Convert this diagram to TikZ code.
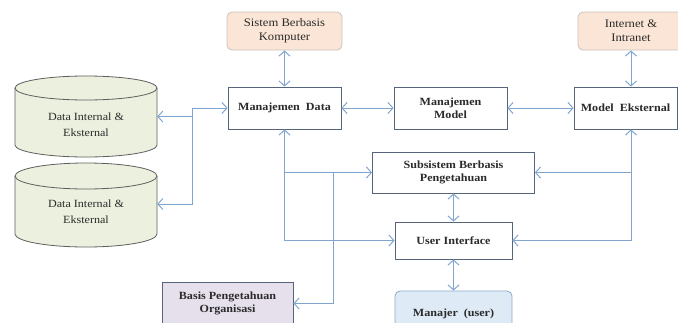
\documentclass[tikz,border=0pt]{standalone}
\usepackage{fontspec}
\setmainfont{Liberation Serif}[FakeStretch=1.1]
\usetikzlibrary{arrows.meta}
\definecolor{lineblue}{HTML}{82A5D0}
\definecolor{boxline}{HTML}{56657C}
\definecolor{textc}{HTML}{2B2B2B}
\definecolor{peach}{HTML}{FBE5D6}
\definecolor{peachline}{HTML}{C9C2BC}
\definecolor{cylfill}{HTML}{EBF1DE}
\definecolor{cylline}{HTML}{5E5E5E}
\definecolor{lav}{HTML}{E6E0EC}
\definecolor{lblue}{HTML}{DEEBF7}
\definecolor{lblueline}{HTML}{8EA9C8}
\begin{document}
\begin{tikzpicture}[x=1pt,y=1pt,
  conn/.style={draw=lineblue, line width=1pt, arrows={-Straight Barb[length=5pt,width=11pt]}},
  dbl/.style={draw=lineblue, line width=1pt, arrows={Straight Barb[length=5pt,width=11pt]-Straight Barb[length=5pt,width=11pt]}},
  box/.style={draw=boxline, line width=0.8pt, fill=white, minimum height=42pt, inner sep=0pt,
    align=center, text=textc, font=\fontsize{11}{13.5}\selectfont\bfseries},
  soft/.style={draw=peachline, line width=0.8pt, fill=peach, rounded corners=5pt, minimum height=38pt,
    inner sep=0pt, align=center, text=textc, font=\fontsize{11.5}{14}\selectfont},
  cyltext/.style={align=center, text=textc, font=\fontsize{11}{16}\selectfont, inner sep=0pt}
  ]
\useasboundingbox (0,0) rectangle (678,-322);
\clip (0,0) rectangle (678,-322);

% cylinders
\fill[cylfill] (15,-88) -- (15,-145) arc[start angle=180,end angle=360,x radius=71,y radius=12] -- (157,-88) arc[start angle=0,end angle=180,x radius=71,y radius=12] -- cycle;
\draw[cylline, line width=0.8pt] (15,-88) -- (15,-145) arc[start angle=180,end angle=360,x radius=71,y radius=12] -- (157,-88);
\draw[cylline, line width=0.8pt] (86,-88) ellipse[x radius=71,y radius=12];
\node[minimum width=142pt, minimum height=81pt, inner sep=0pt] (cyl1) at (86,-116.5) {};
\node[cyltext] (cyl1t) at (86,-125) {Data Internal \&\\Eksternal};

\fill[cylfill] (15,-176) -- (15,-234) arc[start angle=180,end angle=360,x radius=71,y radius=13] -- (157,-176) arc[start angle=0,end angle=180,x radius=71,y radius=13] -- cycle;
\draw[cylline, line width=0.8pt] (15,-176) -- (15,-234) arc[start angle=180,end angle=360,x radius=71,y radius=13] -- (157,-176);
\draw[cylline, line width=0.8pt] (86,-176) ellipse[x radius=71,y radius=13];
\node[minimum width=142pt, minimum height=84pt, inner sep=0pt] (cyl2) at (86,-204) {};
\node[cyltext] (cyl2t) at (86,-212) {Data Internal \&\\Eksternal};

% boxes
\node[soft, minimum width=115pt] (SBK) at (284.5,-31) {Sistem Berbasis\\Komputer};
\node[soft, minimum width=106pt] (Inet) at (631,-31) {Internet \&\\Intranet};
\node[box, minimum width=113pt] (MD) at (284.5,-108) {Manajemen\ \ Data};
\node[box, minimum width=113pt] (MM) at (450.5,-108) {Manajemen\\Model};
\node[box, minimum width=103pt] (ME) at (625.5,-108) {Model\ \ Eksternal};
\node[box, minimum width=162pt, minimum height=41pt] (SS) at (453.5,-172.5) {Subsistem Berbasis\\Pengetahuan};
\node[box, minimum width=117pt, minimum height=37pt] (UI) at (453.5,-240.5) {User Interface};
\node[box, draw=lblueline, fill=lblue, rounded corners=5pt, minimum width=117pt, minimum height=46pt] (MA) at (453.5,-314) {Manajer\ \ (user)};
\node[box, fill=lav, minimum width=131pt, minimum height=43pt] (BP) at (227.5,-303.5) {Basis Pengetahuan\\Organisasi};

% connectors
\coordinate (itop) at (Inet.south |- ME.south);
\draw[dbl] (SBK.south) -- (MD.north);
\draw[dbl] (Inet.south) -- (Inet.south |- ME.north);
\draw[dbl] (MD.east) -- (MM.west);
\draw[dbl] (MM.east) -- (ME.west);

\coordinate (bl) at (192,-108);
\draw[dbl] (MD.west) -- (bl) |- (cyl2.east);
\draw[conn] (cyl1.east -| bl) -- (cyl1.east);

\draw[dbl] (MD.south) |- (SS.west);
\draw[conn] (MD.south |- SS.west) |- (UI.west);
\coordinate (bj) at (333,-172.5);
\draw[conn] (bj) |- (BP.east);

\draw[dbl] (itop) |- (SS.east);
\draw[conn] (itop |- SS.east) |- (UI.east);

\draw[dbl] (SS.south) -- (UI.north);
\draw[dbl] (UI.south) -- (MA.north);
\end{tikzpicture}
\end{document}
